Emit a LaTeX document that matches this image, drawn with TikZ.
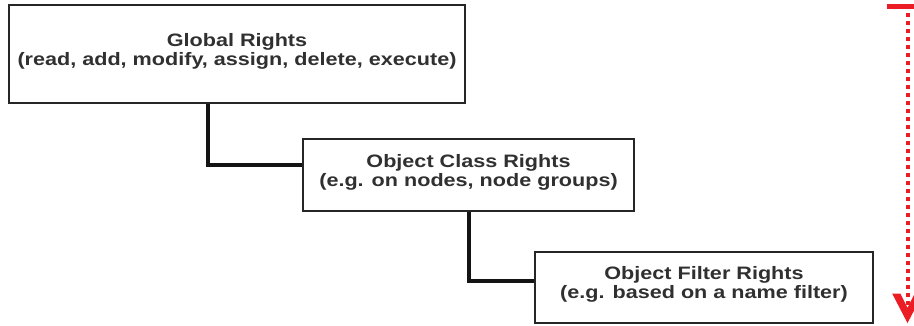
\documentclass[tikz,border=0pt]{standalone}
\usepackage{fontspec}
\setmainfont{Liberation Sans}[FakeStretch=1.2]
\definecolor{boxline}{HTML}{262626}
\definecolor{boxtext}{HTML}{303030}
\definecolor{arrred}{HTML}{EC1C24}
\begin{document}
\begin{tikzpicture}[x=1pt,y=-1pt,
  rightsbox/.style={draw=boxline, line width=2.2pt, fill=white, inner sep=0pt, align=center,
    font=\fontsize{18}{18.8}\selectfont\bfseries, text=boxtext},
  conn/.style={draw=black!92, line width=3.4pt, line join=miter},
  reddots/.style={draw=arrred, line width=4.6pt, dash pattern=on 4pt off 4pt},
  redhead/.style={fill=arrred, draw=arrred, line width=1pt, line join=miter}]
\useasboundingbox (0,0) rectangle (914,325);
\node[rightsbox, minimum width=456pt, minimum height=98pt] (g) at (237,54)
  {Global Rights\\(read, add, modify, assign, delete, execute)\\[-9pt]\mbox{}};
\node[rightsbox, minimum width=331pt, minimum height=72pt] (c) at (468.5,175)
  {Object Class Rights\\(e.g. on nodes, node groups)\\[-9pt]\mbox{}};
\node[rightsbox, minimum width=338pt, minimum height=71pt] (f) at (704,287.5)
  {Object Filter Rights\\(e.g. based on a name filter)\\[-9pt]\mbox{}};
\coordinate (k1) at (208,165);
\coordinate (k2) at (469,281);
\draw[conn] (g.south -| k1) -- (k1) -- (k1 -| c.west);
\draw[conn] (c.south -| k2) -- (k2) -- (k2 -| f.west);
\coordinate (rs) at (908,13);
\coordinate (re) at (908,306);
\coordinate (rl) at (887,6.5);
\coordinate (rr) at (914,6.5);
\draw[draw=arrred, line width=4.6pt] (rl) -- (rr);
\draw[reddots] (rs) -- (re);
\coordinate (ho1) at (893,294);
\coordinate (ht) at (907.5,322);
\coordinate (ho2) at (922,294);
\coordinate (hi2) at (915,294);
\coordinate (hi) at (907.5,309);
\coordinate (hi1) at (900,294);
\draw[redhead] (ho1) -- (ht) -- (ho2) -- (hi2) -- (hi) -- (hi1) -- cycle;
\end{tikzpicture}
\end{document}
